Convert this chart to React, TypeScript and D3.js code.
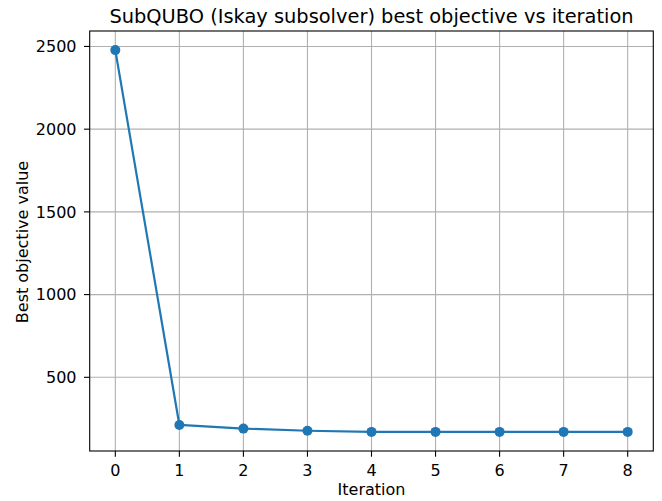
import React, { useEffect, useRef } from 'react';
import * as d3 from 'd3';

const iterations = [0, 1, 2, 3, 4, 5, 6, 7, 8];
const bestObjective = [2478, 212, 190, 177, 170, 170, 170, 170, 170];
const xTicks = [0, 1, 2, 3, 4, 5, 6, 7, 8];
const yTicks = [500, 1000, 1500, 2000, 2500];

const W = 662;
const H = 501;
const font = 'DejaVu Sans, sans-serif';

const App = () => {
  const svgRef = useRef<SVGSVGElement | null>(null);

  useEffect(() => {
    const svg = d3.select(svgRef.current);
    svg.selectAll('*').remove();

    const left = 89.7, right = 653.3, top = 31, bottom = 451;

    const x = d3.scaleLinear().domain([-0.4, 8.4]).range([left, right]);
    const ymin = d3.min(bestObjective)!;
    const ymax = d3.max(bestObjective)!;
    const pad = (ymax - ymin) * 0.05;
    const y = d3.scaleLinear().domain([ymin - pad, ymax + pad]).range([bottom, top]);

    svg.append('rect').attr('width', W).attr('height', H).attr('fill', '#fff');

    // grid
    svg.append('g').selectAll('line').data(xTicks).join('line')
      .attr('x1', d => x(d)).attr('x2', d => x(d))
      .attr('y1', top).attr('y2', bottom)
      .attr('stroke', '#b0b0b0').attr('stroke-width', 1.1);
    svg.append('g').selectAll('line').data(yTicks).join('line')
      .attr('x1', left).attr('x2', right)
      .attr('y1', d => y(d)).attr('y2', d => y(d))
      .attr('stroke', '#b0b0b0').attr('stroke-width', 1.1);

    // line + markers
    const pts = iterations.map((it, i) => [it, bestObjective[i]] as [number, number]);
    const line = d3.line<[number, number]>().x(d => x(d[0])).y(d => y(d[1]));
    svg.append('path').datum(pts)
      .attr('d', line)
      .attr('fill', 'none')
      .attr('stroke', '#1f77b4')
      .attr('stroke-width', 2.2)
      .attr('stroke-linejoin', 'round');
    svg.append('g').selectAll('circle').data(pts).join('circle')
      .attr('cx', d => x(d[0])).attr('cy', d => y(d[1]))
      .attr('r', 5).attr('fill', '#1f77b4');

    // frame
    svg.append('rect')
      .attr('x', left).attr('y', top)
      .attr('width', right - left).attr('height', bottom - top)
      .attr('fill', 'none').attr('stroke', '#000').attr('stroke-width', 1.1);

    // x ticks
    const xt = svg.append('g');
    xt.selectAll('line').data(xTicks).join('line')
      .attr('x1', d => x(d)).attr('x2', d => x(d))
      .attr('y1', bottom).attr('y2', bottom + 5.7)
      .attr('stroke', '#000').attr('stroke-width', 1.1);
    xt.selectAll('text').data(xTicks).join('text')
      .attr('x', d => x(d)).attr('y', 475.5)
      .attr('text-anchor', 'middle')
      .attr('font-family', font).attr('font-size', 16)
      .attr('fill', '#000')
      .text(d => d);

    // y ticks
    const yt = svg.append('g');
    yt.selectAll('line').data(yTicks).join('line')
      .attr('x1', left - 5.7).attr('x2', left)
      .attr('y1', d => y(d)).attr('y2', d => y(d))
      .attr('stroke', '#000').attr('stroke-width', 1.1);
    yt.selectAll('text').data(yTicks).join('text')
      .attr('x', 76.5).attr('y', d => y(d))
      .attr('dy', '0.36em')
      .attr('text-anchor', 'end')
      .attr('font-family', font).attr('font-size', 16)
      .attr('fill', '#000')
      .text(d => d);

    // labels
    svg.append('text')
      .attr('x', (left + right) / 2).attr('y', 495)
      .attr('text-anchor', 'middle')
      .attr('font-family', font).attr('font-size', 16)
      .text('Iteration');
    svg.append('text')
      .attr('transform', `translate(27.5, ${(top + bottom) / 2 + 1}) rotate(-90)`)
      .attr('text-anchor', 'middle')
      .attr('font-family', font).attr('font-size', 16)
      .text('Best objective value');
    svg.append('text')
      .attr('x', (left + right) / 2).attr('y', 23)
      .attr('text-anchor', 'middle')
      .attr('font-family', font).attr('font-size', 19.4)
      .text('SubQUBO (Iskay subsolver) best objective vs iteration');
  }, []);

  return (
    <svg ref={svgRef} width={W} height={H}
      style={{ position: 'absolute', left: 0, top: 0, display: 'block' }} />
  );
};

export default App;
